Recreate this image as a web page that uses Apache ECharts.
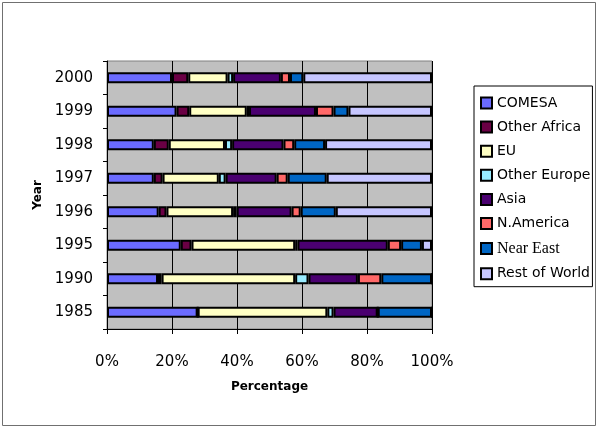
<!DOCTYPE html>
<html><head><meta charset="utf-8">
<script src="https://cdn.jsdelivr.net/npm/echarts@6/dist/echarts.min.js"></script>
<style>html,body{margin:0;padding:0;background:#fff}#c{width:600px;height:428px}</style>
</head><body><div id="c"></div>
<script>
const years = ['1985','1990','1995','1996','1997','1998','1999','2000'];
const seriesNames = ['COMESA','Other Africa','EU','Other Europe','Asia','N.America','Near East','Rest of World'];
const comesa      = [27.9, 15.7, 22.7, 15.9, 14.4, 14.4, 21.4, 20.0];
const otherAfrica = [0,    1.1,  3.3,  2.4,  2.7,  4.6,  3.9,  5.0];
const eu          = [39.9, 41.1, 31.9, 20.5, 17.3, 17.3, 17.7, 12.1];
const otherEurope = [1.9,  4.1,  0.7,  1.1,  2.1,  2.2,  0.7,  1.7];
const asia        = [13.6, 15.2, 27.8, 16.9, 15.7, 15.8, 20.6, 14.7];
const nAmerica    = [0,    7.2,  4.1,  2.8,  3.4,  3.3,  5.4,  2.8];
const nearEast    = [16.7, 15.6, 6.4,  10.8, 12.0, 9.5,  4.6,  4.1];
const restOfWorld = [0,    0,    3.1,  29.6, 32.4, 32.9, 25.7, 39.6];
const xTicks = [0, 20, 40, 60, 80, 100];

const values = [comesa, otherAfrica, eu, otherEurope, asia, nAmerica, nearEast, restOfWorld];
const colors = ['#6b6bff','#6a0044','#ffffc4','#99ecff','#4a0070','#ff6868','#0066c4','#c6c6ff'];
const font = 'DejaVu Sans';

const chart = echarts.init(document.getElementById('c'));
chart.setOption({
  animation: false,
  textStyle: {fontFamily: font},
  graphic: [{type:'rect', shape:{x:2.5, y:2.5, width:593, height:423}, style:{fill:'none', stroke:'#707070', lineWidth:1}, silent:true, z:-1}],
  grid: {left:107, right:168, top:61, bottom:99, show:true, backgroundColor:'#c0c0c0', borderColor:'#808080', borderWidth:1},
  legend: {
    orient:'vertical', left:474, top:86,
    padding:[10, 2, 6, 6], itemWidth:11, itemHeight:11, itemGap:10.1,
    borderColor:'#000', borderWidth:1, backgroundColor:'#fff',
    textStyle:{fontFamily:font, fontSize:14, color:'#000'},
    data: seriesNames.map(n => n === 'Near East'
      ? {name:n, icon:'rect', textStyle:{fontFamily:'Liberation Serif', fontSize:16}}
      : {name:n, icon:'rect'})
  },
  xAxis: {
    type:'value', min:xTicks[0], max:xTicks[xTicks.length-1], interval:20,
    name:'Percentage', nameLocation:'middle', nameGap:52,
    nameTextStyle:{fontFamily:font, fontSize:12, fontWeight:'bold', color:'#000'},
    axisLine:{show:true, lineStyle:{color:'#000', width:1}},
    axisTick:{show:true, length:5, lineStyle:{color:'#000'}},
    axisLabel:{formatter:'{value}%', fontSize:15, color:'#000', margin:26, fontFamily:font},
    splitLine:{show:true, lineStyle:{color:'#000', width:1}}
  },
  yAxis: {
    type:'category', data:years,
    name:'Year', nameLocation:'middle', nameGap:63,
    nameTextStyle:{fontFamily:font, fontSize:12, fontWeight:'bold', color:'#000'},
    axisLine:{show:true, lineStyle:{color:'#000', width:1}},
    axisTick:{show:true, length:4, lineStyle:{color:'#000'}},
    axisLabel:{fontSize:15, color:'#000', margin:14, fontFamily:font},
    splitLine:{show:false}
  },
  series: seriesNames.map((n, i) => ({
    name:n, type:'bar', stack:'total', barWidth:11, data:values[i],
    itemStyle:{color:colors[i], borderColor:'#000', borderWidth:2}
  }))
});
</script></body></html>
